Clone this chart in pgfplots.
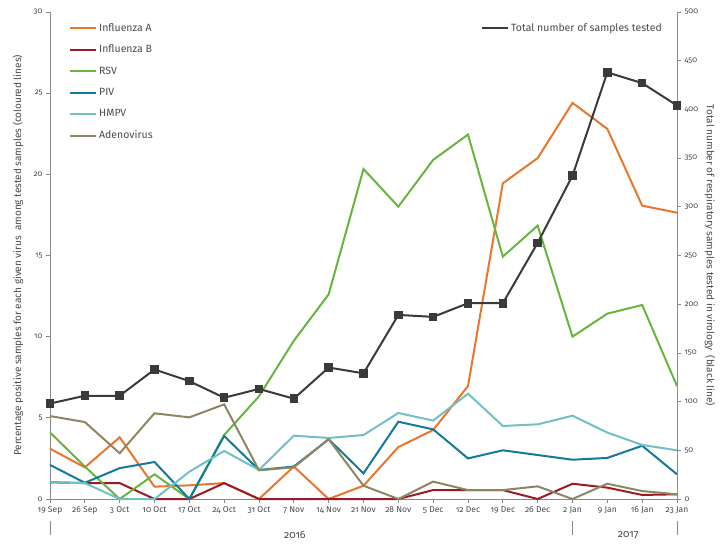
\documentclass[border=0pt]{standalone}
\usepackage{fontspec}
\setmainfont{Fira Sans}[Numbers=OldStyle]
\usepackage{pgfplots}
\usepackage{pgfplotstable}
\pgfplotsset{compat=1.18}
\definecolor{fluA}{HTML}{E8762D}
\definecolor{fluB}{HTML}{9B1B24}
\definecolor{rsv}{HTML}{66B53F}
\definecolor{piv}{HTML}{137A9A}
\definecolor{hmpv}{HTML}{72BFC5}
\definecolor{adeno}{HTML}{8E8663}
\definecolor{tot}{HTML}{3A3A3A}
\definecolor{axgray}{HTML}{8A8A8A}
\definecolor{labgray}{HTML}{4A4A4A}

\pgfplotstableread{
x fluA fluB rsv piv hmpv adeno
0 3.1 1.03 4.1 2.1 1.03 5.11
1 1.95 0.98 2.0 1.0 0.98 4.74
2 3.8 0.98 0 1.9 0 2.82
3 0.76 0 1.52 2.28 0 5.28
4 0.84 0 0 0 1.68 5.03
5 0.98 0.98 3.94 3.88 2.96 5.83
6 0 0 6.33 1.79 1.79 1.77
7 2.0 0 9.75 2.0 3.9 1.95
8 0 0 12.61 3.68 3.76 3.68
9 0.82 0 20.33 1.58 3.94 0.82
10 3.2 0 18.01 4.76 5.3 0
11 4.25 0.55 20.89 4.29 4.83 1.07
12 6.96 0.55 22.45 2.5 6.49 0.55
13 19.45 0.55 14.93 3.0 4.5 0.55
14 21.0 0 16.84 2.71 4.6 0.78
15 24.4 0.94 10.0 2.42 5.13 0
16 22.8 0.7 11.42 2.53 4.09 0.94
17 18.07 0.25 11.95 3.28 3.33 0.49
18 17.64 0.29 6.96 1.52 3.0 0.29
}\viral

\pgfplotstableread{
x total
0 98
1 106
2 106
3 133
4 121
5 104
6 113
7 103
8 135
9 129
10 189
11 187
12 201
13 201
14 263
15 332
16 438
17 427
18 404
}\totals

\begin{document}
\begin{tikzpicture}
\useasboundingbox (-50pt,-51pt) rectangle (675pt,499pt);
\pgfplotsset{
  common/.style={
    scale only axis, width=627pt, height=487pt,
    xmin=0, xmax=18,
    axis line style={-, axgray, line width=0.7pt},
    tick align=outside, major tick length=4pt,
    tick style={axgray, line width=0.7pt},
    ticklabel style={font=\fontsize{8}{9}\selectfont, text=labgray},
    xticklabel style={font=\fontsize{8.5}{10}\selectfont},
    /pgf/number format/assume math mode=true,
    clip=false,
    legend cell align=left,
    legend image code/.code={\draw[##1, line width=2pt] (0pt,0pt) -- (26pt,0pt);},
  }
}
\begin{axis}[
  common,
  ymin=0, ymax=30,
  axis x line*=bottom, axis y line*=left,
  xtick={0,...,18},
  xticklabels={19 Sep,26 Sep,3 Oct,10 Oct,17 Oct,24 Oct,31 Oct,7 Nov,14 Nov,21 Nov,28 Nov,5 Dec,12 Dec,19 Dec,26 Dec,2 Jan,9 Jan,16 Jan,23 Jan},
  ytick={0,5,...,30},
  every axis y label/.style={at={(axis description cs:-0.051,0.5)}, rotate=90, anchor=center, font=\fontsize{10}{12}\selectfont, text=labgray},
  ylabel={Percentage positive samples for each given virus \ among tested samples (coloured lines)},
  legend style={draw=none, fill=none, at={(axis description cs:0,1)}, anchor=north west, xshift=16pt, yshift=-7pt, font=\fontsize{10.5}{12}\selectfont, text=labgray, row sep=8.5pt, /tikz/every even column/.style={column sep=3pt}},
]
\addplot[fluA, line width=2pt] table[x=x, y=fluA] {\viral};
\addlegendentry{Influenza A}
\addplot[fluB, line width=2pt] table[x=x, y=fluB] {\viral};
\addlegendentry{Influenza B}
\addplot[rsv, line width=2pt] table[x=x, y=rsv] {\viral};
\addlegendentry{RSV}
\addplot[piv, line width=2pt] table[x=x, y=piv] {\viral};
\addlegendentry{PIV}
\addplot[hmpv, line width=2pt] table[x=x, y=hmpv] {\viral};
\addlegendentry{HMPV}
\addplot[adeno, line width=2pt] table[x=x, y=adeno] {\viral};
\addlegendentry{Adenovirus}
\draw[axgray, line width=0.8pt] ([yshift=-22pt]axis cs:0,0) -- ++(0,-14pt);
\draw[axgray, line width=0.8pt] ([yshift=-22pt]axis cs:15,0) -- ++(0,-14pt);
\draw[axgray, line width=0.8pt] ([yshift=-22pt]axis cs:18,0) -- ++(0,-14pt);
\node[font=\fontsize{10.5}{12}\selectfont, text=labgray] at ([yshift=-36pt]axis cs:7.03,0) {2016};
\node[font=\fontsize{10.5}{12}\selectfont, text=labgray] at ([yshift=-36pt]axis cs:16.6,0) {2017};
\end{axis}
\begin{axis}[
  common,
  ymin=0, ymax=500,
  axis x line=none, axis y line*=right,
  ytick={0,50,...,500},
  every axis y label/.style={at={(axis description cs:1.0526,0.5)}, rotate=-90, anchor=center, font=\fontsize{10}{12}\selectfont, text=labgray},
  ylabel={Total number of respiratory samples tested in virology \ (black line)},
  legend style={draw=none, fill=none, at={(axis description cs:1,1)}, anchor=north east, xshift=-10pt, yshift=-7pt, font=\fontsize{10.5}{12}\selectfont, text=labgray, /tikz/every even column/.style={column sep=3pt}},
]
\addplot[tot, line width=2pt, mark=square*, mark size=3.8pt, mark options={fill=tot, draw=tot, line width=0pt}] table[x=x, y=total] {\totals};
\addlegendentry{Total number of samples tested}
\end{axis}
\end{tikzpicture}
\end{document}
